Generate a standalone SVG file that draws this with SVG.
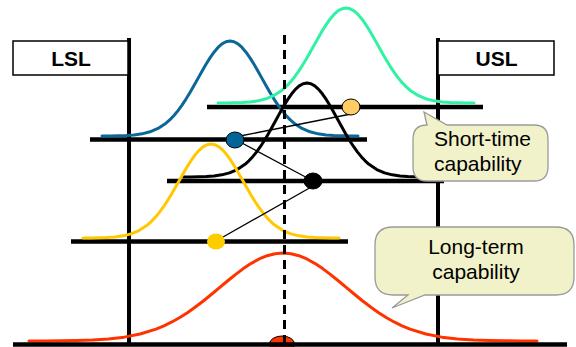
<svg xmlns="http://www.w3.org/2000/svg" xmlns:xlink="http://www.w3.org/1999/xlink" width="576" height="347" viewBox="0 0 576 347">
<style>
.hl{stroke:#000;stroke-width:4.3;fill:none}
.vl{stroke:#000;stroke-width:4;fill:none}
.crv{fill:none;stroke-width:3;stroke-linejoin:round;stroke-linecap:round}
.con{stroke:#000;stroke-width:1.3;fill:none}
.box{fill:#fff;stroke:#000;stroke-width:1.5}
.lbl{font-family:"Liberation Sans",Arial,sans-serif;font-weight:bold;font-size:21px;text-anchor:middle;fill:#000}
.call{fill:#f1f2c9;stroke:#9a9a9a;stroke-width:1.3}
.ct{font-family:"Liberation Sans",Arial,sans-serif;font-size:21px;fill:#000}
.dot{stroke:#000;stroke-width:1}
</style>
<defs>
<path id="gauss" vector-effect="non-scaling-stroke" d="M-4,0.0003 L-3.75,0.0009 -3.5,0.0022 -3.25,0.0051 -3,0.0111 -2.75,0.0228 -2.5,0.0439 -2.25,0.0796 -2,0.1353 -1.875,0.1724 -1.75,0.2163 -1.625,0.2671 -1.5,0.3247 -1.375,0.3886 -1.25,0.4578 -1.125,0.5311 -1,0.6065 -0.875,0.6819 -0.75,0.7548 -0.625,0.8226 -0.5,0.8825 -0.375,0.9321 -0.25,0.9692 -0.125,0.9922 0,1 0.125,0.9922 0.25,0.9692 0.375,0.9321 0.5,0.8825 0.625,0.8226 0.75,0.7548 0.875,0.6819 1,0.6065 1.125,0.5311 1.25,0.4578 1.375,0.3886 1.5,0.3247 1.625,0.2671 1.75,0.2163 1.875,0.1724 2,0.1353 2.25,0.0796 2.5,0.0439 2.75,0.0228 3,0.0111 3.25,0.0051 3.5,0.0022 3.75,0.0009 4,0.0003"/>
</defs>
<rect width="576" height="347" fill="#fff"/>
<g id="axes">
<line class="hl" x1="207" y1="107" x2="483" y2="107"/>
<line class="hl" x1="90" y1="139.5" x2="367" y2="139.5"/>
<line class="hl" x1="167" y1="181" x2="444" y2="181"/>
<line class="hl" x1="71" y1="241.5" x2="348" y2="241.5"/>
<line class="vl" x1="129" y1="38" x2="129" y2="344"/>
<line class="vl" x1="438" y1="38" x2="438" y2="344"/>
</g>
<g id="curves">
<use xlink:href="#gauss" class="crv" stroke="#0b6798" transform="translate(230,136) scale(32,-95)"/>
<use xlink:href="#gauss" class="crv" stroke="#2ff2a2" transform="translate(346,103) scale(32,-95)"/>
<use xlink:href="#gauss" class="crv" stroke="#000" transform="translate(307,177) scale(31,-94)"/>
<use xlink:href="#gauss" class="crv" stroke="#ffc800" transform="translate(211,238) scale(32,-94)"/>
<use xlink:href="#gauss" class="crv" stroke="#ff3300" transform="translate(283,341) scale(63.5,-88)"/>
</g>
<g id="mean-dot"><ellipse class="dot" cx="282" cy="344" rx="12.5" ry="8" fill="#ff3300"/></g>
<line id="baseline" x1="13" y1="344.5" x2="567" y2="344.5" stroke="#000" stroke-width="4.5"/>
<line id="center" x1="284.5" y1="35" x2="284.5" y2="344" stroke="#000" stroke-width="3" stroke-dasharray="9,6"/>
<g id="connectors">
<line class="con" x1="240" y1="136" x2="351" y2="114" stroke-width="2"/>
<line class="con" x1="240" y1="142" x2="313" y2="181"/>
<line class="con" x1="216" y1="241" x2="313" y2="186"/>
</g>
<g id="dot-orange"><ellipse class="dot" cx="351" cy="107" rx="9" ry="8" fill="#ffcc66"/></g>
<g id="dot-blue"><ellipse class="dot" cx="235" cy="140" rx="9" ry="8" fill="#006699"/></g>
<g id="dot-black"><ellipse class="dot" cx="313" cy="181" rx="9" ry="8" fill="#000"/></g>
<g id="dot-yellow"><ellipse cx="216" cy="241.5" rx="9" ry="8" fill="#ffcc00"/></g>
<g id="lsl"><rect class="box" x="13" y="41" width="115" height="34"/><text class="lbl" x="71" y="66">LSL</text></g>
<g id="usl"><rect class="box" x="438" y="41" width="116" height="34"/><text class="lbl" x="496.5" y="66">USL</text></g>
<g id="callout-short">
<path class="call" d="M427,125 L424,112 L447,125 L534,125 Q548,125 548,139 L548,167 Q548,181 534,181 L427,181 Q413,181 413,167 L413,139 Q413,125 427,125 Z"/>
<text class="ct" x="434" y="146">Short-time</text>
<text class="ct" x="434" y="171">capability</text>
</g>
<g id="callout-long">
<path class="call" d="M393,227 L556,227 Q574,227 574,245 L574,277 Q574,295 556,295 L425,295 L392,308 L408,295 L393,295 Q375,295 375,277 L375,245 Q375,227 393,227 Z"/>
<text class="ct" x="476" y="254" text-anchor="middle">Long-term</text>
<text class="ct" x="476" y="279" text-anchor="middle">capability</text>
</g>
</svg>
